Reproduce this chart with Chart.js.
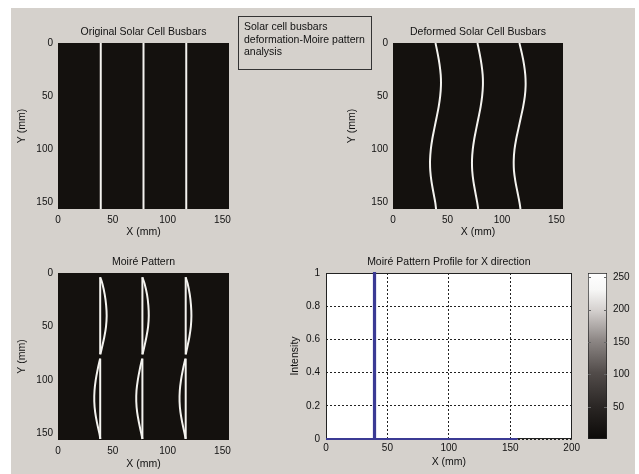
<!DOCTYPE html>
<html>
<head>
<meta charset="utf-8">
<script src="https://cdn.jsdelivr.net/npm/chart.js@4.4.1/dist/chart.umd.min.js"></script>
<style>
  html, body { margin:0; padding:0; background:#ffffff; }
  #fig { position:relative; width:639px; height:474px; overflow:hidden; }
  #panel { position:absolute; left:11px; top:8px; width:624px; height:466px; background:#d5d1cc; }
  #note { position:absolute; left:238px; top:16px; width:134px; height:54px; box-sizing:border-box;
          border:1px solid #333; padding:3px 0 0 5px; font:10.5px 'Liberation Sans', Arial, sans-serif;
          line-height:12.7px; color:#111; z-index:10; white-space:nowrap; }
  canvas { position:absolute; }
</style>
</head>
<body>
<div id="fig">
  <div id="panel"></div>
  <div id="note">Solar cell busbars<br>deformation-Moire pattern<br>analysis</div>
</div>
<script>
// ---------------- DATA ----------------
const imgTicks = [0, 50, 100, 150];
const imgMin = 0, imgMax = 156;

// Original busbars: straight vertical lines
const origX = [39, 78, 117];
const origY = [0, 156];

// Deformed busbars
const defY  = [0, 10, 20, 30, 40, 50, 60, 70, 80, 90, 100, 110, 120, 130, 140, 150, 156];
const defX1 = [39, 41, 42.7, 43.8, 44, 43.3, 41.9, 40, 38, 36.1, 34.7, 34, 34.2, 35.3, 37, 38.8, 39.5];
const defX2 = [77.5, 79.5, 81.2, 82.3, 82.5, 81.8, 80.4, 78.5, 76.5, 74.6, 73.2, 72.5, 72.7, 73.8, 75.5, 77.3, 78.2];
const defX3 = [116, 118.3, 120.2, 121.4, 121.7, 121, 119.4, 117.3, 115.2, 113.1, 111.5, 110.8, 111, 112.3, 114.2, 116.1, 117];

// Moire pattern
const moireStraightX = [38.5, 77, 116.5];
const moireTopSegY = [4, 76];
const moireBotSegY = [80, 155];
const moireTopY = [4, 10, 20, 30, 40, 50, 60, 70, 76];
const moireTopArc1 = [38.5, 40.5, 42.6, 43.9, 44.4, 43.8, 42.2, 40.0, 38.6];
const moireTopArc2 = [77, 79, 81.2, 82.4, 82.8, 82.2, 80.6, 78.5, 77.1];
const moireTopArc3 = [116.5, 118.3, 120.2, 121.3, 121.7, 121.2, 119.8, 117.8, 116.6];
const moireBotY = [80, 90, 100, 110, 120, 130, 140, 150, 155];
const moireBotArc1 = [38.4, 36.2, 34.4, 33.3, 33.1, 33.9, 35.6, 37.8, 38.6];
const moireBotArc2 = [76.8, 74.6, 72.8, 71.6, 71.4, 72.2, 73.9, 76.0, 77.0];
const moireBotArc3 = [116.2, 114.0, 112.2, 111.1, 110.9, 111.7, 113.4, 115.5, 116.4];

// Profile
const profileX = [0, 39, 39, 40, 40, 156];
const profileY = [0, 0, 1, 1, 0, 0];
const profileXTicks = [0, 50, 100, 150, 200];
const profileYTicks = [0, 0.2, 0.4, 0.6, 0.8, 1];

// Colorbar
const cbMin = 0.5, cbMax = 256.5;
const cbTicks = [50, 100, 150, 200, 250];

// ---------------- STYLE / LAYOUT ----------------
const FONT = "'Liberation Sans', Arial, Helvetica, sans-serif";
const TITLE_PX = 10.5, TICK_PX = 10, LH = TITLE_PX * 1.2;
const TXT = '#111111';
const IMG_BG = '#14110e';
const LINE_W = '#f4f3ef';

function makeCanvas(box) {
  const c = document.createElement('canvas');
  c.width = box.w; c.height = box.h;
  c.style.left = box.x + 'px'; c.style.top = box.y + 'px';
  c.style.width = box.w + 'px'; c.style.height = box.h + 'px';
  document.getElementById('fig').appendChild(c);
  return c;
}
const pts = (xs, ys) => xs.map((x, i) => ({ x: x, y: ys[i] }));
const fixedTicks = arr => (s => { s.ticks = arr.map(v => ({ value: v })); });
const titleFont = { family: FONT, size: TITLE_PX, weight: 'normal' };
const tickFont = { family: FONT, size: TICK_PX };

// axes title centred over the plot area (like MATLAB's title)
function axTitle(text, gap) {
  return {
    id: 'axTitle',
    afterDraw(chart) {
      const a = chart.chartArea, ctx = chart.ctx;
      ctx.save();
      ctx.font = 'normal ' + TITLE_PX + 'px ' + FONT;
      ctx.fillStyle = TXT; ctx.textAlign = 'center'; ctx.textBaseline = 'middle';
      ctx.fillText(text, (a.left + a.right) / 2, a.top - gap);
      ctx.restore();
    }
  };
}

const imageBg = {
  id: 'imageBg',
  beforeDatasetsDraw(chart) {
    const a = chart.chartArea, ctx = chart.ctx;
    ctx.save(); ctx.fillStyle = IMG_BG;
    ctx.fillRect(a.left, a.top, a.right - a.left, a.bottom - a.top);
    ctx.restore();
  }
};

function lineDs(data, w) {
  return { data: data, showLine: true, borderColor: LINE_W, borderWidth: w || 2,
           pointRadius: 0, fill: false, tension: 0.35 };
}

function imageChart(box, area, titleText, titleY, yTitleX, xTitleY, xTickPad, datasets) {
  const c = makeCanvas(box);
  return new Chart(c, {
    type: 'scatter',
    data: { datasets: datasets },
    options: {
      responsive: false, animation: false, events: [],
      layout: { padding: { top: area.top - box.y, left: 0, bottom: 0, right: box.x + box.w - area.right } },
      plugins: { legend: { display: false }, tooltip: { enabled: false }, title: { display: false } },
      scales: {
        x: { type: 'linear', position: 'bottom', min: imgMin, max: imgMax,
             afterBuildTicks: fixedTicks(imgTicks),
             afterFit: s => { s.height = box.y + box.h - area.bottom; },
             grid: { display: false, drawTicks: false }, border: { display: false },
             ticks: { padding: xTickPad, color: TXT, font: tickFont, maxRotation: 0, autoSkip: false },
             title: { display: true, text: 'X (mm)', color: TXT, font: titleFont,
                      padding: { top: 0, bottom: box.y + box.h - xTitleY - LH / 2 } } },
        y: { type: 'linear', position: 'left', reverse: true, min: imgMin, max: imgMax,
             afterBuildTicks: fixedTicks(imgTicks),
             afterFit: s => { s.width = area.left - box.x; },
             grid: { display: false, drawTicks: false }, border: { display: false },
             ticks: { padding: 5, color: TXT, font: tickFont, autoSkip: false },
             title: { display: true, text: 'Y (mm)', color: TXT, font: titleFont,
                      padding: { top: yTitleX - box.x - LH / 2, bottom: 0 } } }
      }
    },
    plugins: [imageBg, axTitle(titleText, area.top - titleY)]
  });
}

// ---- Original ----
imageChart({ x: 12, y: 8, w: 240, h: 232 }, { left: 58, top: 43, right: 229, bottom: 209 },
  'Original Solar Cell Busbars', 32, 22, 232, 5,
  origX.map(x => lineDs(pts([x, x], origY), 2)));

// ---- Deformed ----
imageChart({ x: 345, y: 8, w: 235, h: 232 }, { left: 393, top: 43, right: 563, bottom: 209 },
  'Deformed Solar Cell Busbars', 32, 352, 232, 5,
  [defX1, defX2, defX3].map(xs => lineDs(pts(xs, defY), 2)));

// ---- Moire ----
const moireSets = [];
[[moireTopArc1, moireBotArc1], [moireTopArc2, moireBotArc2], [moireTopArc3, moireBotArc3]].forEach((g, i) => {
  const sx = moireStraightX[i];
  moireSets.push(lineDs(pts([sx, sx], moireTopSegY), 2));
  moireSets.push(lineDs(pts([sx, sx], moireBotSegY), 2));
  moireSets.push(lineDs(pts(g[0], moireTopY), 2));
  moireSets.push(lineDs(pts(g[1], moireBotY), 2));
});
imageChart({ x: 12, y: 245, w: 240, h: 229 }, { left: 58, top: 273, right: 229, bottom: 440 },
  'Moiré Pattern', 261.7, 22, 464, 5, moireSets);

// ---- Profile ----
(function () {
  const box = { x: 270, y: 245, w: 313, h: 229 };
  const area = { left: 326, top: 273, right: 573, bottom: 439 };
  const c = makeCanvas(box);
  const frame = {
    id: 'frame',
    beforeDraw(chart) {
      const a = chart.chartArea, ctx = chart.ctx;
      ctx.save(); ctx.fillStyle = '#ffffff';
      ctx.fillRect(a.left, a.top, a.right - a.left, a.bottom - a.top); ctx.restore();
    },
    beforeDatasetsDraw(chart) {
      const a = chart.chartArea, ctx = chart.ctx;
      ctx.save(); ctx.strokeStyle = '#222'; ctx.lineWidth = 1;
      ctx.strokeRect(Math.round(a.left) + 0.5, Math.round(a.top) + 0.5,
                     Math.round(a.right - a.left) - 1, Math.round(a.bottom - a.top) - 1);
      ctx.restore();
    }
  };
  new Chart(c, {
    type: 'scatter',
    data: { datasets: [{ data: pts(profileX, profileY), showLine: true, borderColor: '#3b3a94',
                         borderWidth: 2, pointRadius: 0, tension: 0, fill: false, clip: 2 }] },
    options: {
      responsive: false, animation: false, events: [],
      layout: { padding: { top: area.top - box.y, left: 0, bottom: 0, right: box.x + box.w - area.right } },
      plugins: { legend: { display: false }, tooltip: { enabled: false }, title: { display: false } },
      scales: {
        x: { type: 'linear', min: 0, max: 200, afterBuildTicks: fixedTicks(profileXTicks),
             afterFit: s => { s.height = box.y + box.h - area.bottom; },
             grid: { display: true, color: '#222', lineWidth: 1, drawTicks: false },
             border: { display: false, dash: [2, 2] },
             ticks: { padding: 3, color: TXT, font: tickFont, maxRotation: 0, autoSkip: false },
             title: { display: true, text: 'X (mm)', color: TXT, font: titleFont,
                      padding: { top: 0, bottom: box.y + box.h - 461.7 - LH / 2 } } },
        y: { type: 'linear', min: 0, max: 1, afterBuildTicks: fixedTicks(profileYTicks),
             afterFit: s => { s.width = area.left - box.x; },
             grid: { display: true, color: '#222', lineWidth: 1, drawTicks: false },
             border: { display: false, dash: [2, 2] },
             ticks: { padding: 6, color: TXT, font: tickFont, autoSkip: false, callback: v => String(+v.toFixed(1)) },
             title: { display: true, text: 'Intensity', color: TXT, font: titleFont,
                      padding: { top: 295 - box.x - LH / 2, bottom: 0 } } }
      }
    },
    plugins: [frame, axTitle('Moiré Pattern Profile for X direction', area.top - 262.3)]
  });
})();

// ---- Colorbar ----
(function () {
  const box = { x: 583, y: 245, w: 56, h: 229 };
  const area = { left: 588, top: 273, right: 607, bottom: 439 };
  const c = makeCanvas(box);
  const innerTicks = {
    id: 'innerTicks',
    afterDatasetsDraw(chart) {
      const a = chart.chartArea, ctx = chart.ctx, ys = chart.scales.y;
      ctx.save(); ctx.strokeStyle = '#666'; ctx.lineWidth = 1;
      ys.ticks.forEach(t => {
        const p = Math.round(ys.getPixelForValue(t.value)) + 0.5;
        ctx.beginPath();
        ctx.moveTo(a.right - 3, p); ctx.lineTo(a.right, p);
        ctx.moveTo(a.left, p); ctx.lineTo(a.left + 3, p);
        ctx.stroke();
      });
      ctx.restore();
    }
  };
  new Chart(c, {
    type: 'bar',
    data: { labels: [''], datasets: [{
      data: [[cbMin, cbMax]],
      backgroundColor: ctx => {
        const ch = ctx.chart; if (!ch.chartArea) return '#000';
        const ys = ch.scales.y;
        const g = ch.ctx.createLinearGradient(0, ys.getPixelForValue(cbMin), 0, ys.getPixelForValue(cbMax));
        g.addColorStop(0, '#0c0a08'); g.addColorStop(0.2, '#2b2725'); g.addColorStop(0.4, '#524c4a');
        g.addColorStop(0.6, '#8f8987'); g.addColorStop(0.78, '#d6d2d0'); g.addColorStop(0.9, '#f7f7f6');
        g.addColorStop(1, '#ffffff');
        return g;
      },
      borderColor: '#222', borderWidth: 1, borderSkipped: false,
      barPercentage: 1, categoryPercentage: 1 }] },
    options: {
      responsive: false, animation: false, events: [],
      layout: { padding: { left: area.left - box.x, top: area.top - box.y, bottom: box.y + box.h - area.bottom, right: 0 } },
      plugins: { legend: { display: false }, tooltip: { enabled: false }, title: { display: false } },
      scales: {
        x: { display: false },
        y: { position: 'right', min: cbMin, max: cbMax, afterBuildTicks: fixedTicks(cbTicks),
             afterFit: s => { s.width = box.x + box.w - area.right; },
             grid: { display: false, drawTicks: false }, border: { display: false },
             ticks: { padding: 6, color: TXT, font: tickFont, autoSkip: false } }
      }
    },
    plugins: [innerTicks]
  });
})();
</script>
</body>
</html>
